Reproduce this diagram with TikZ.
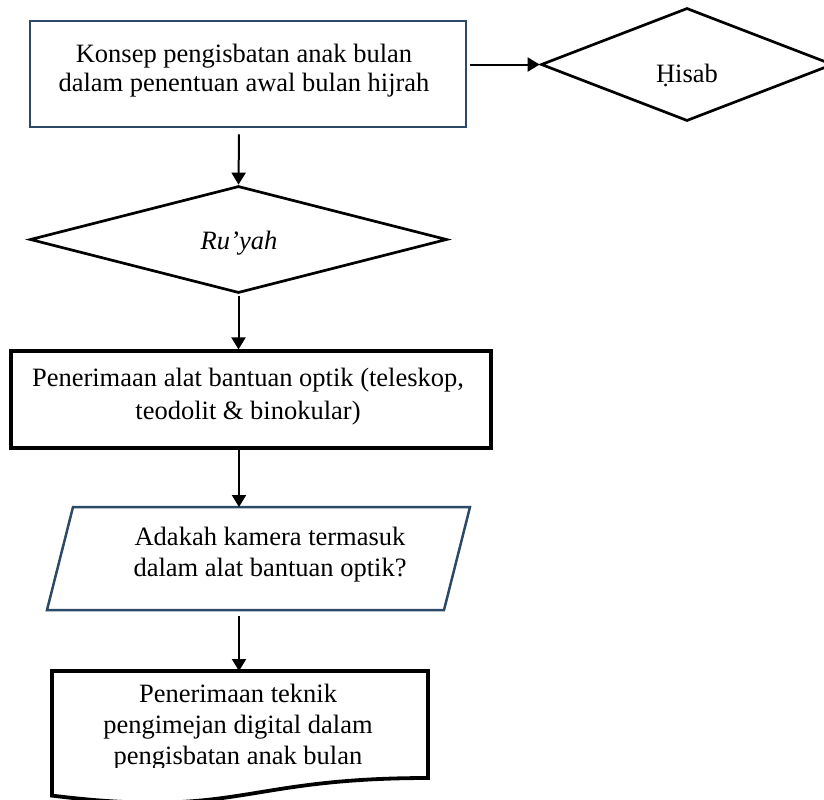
\documentclass[tikz,border=0pt]{standalone}
\usepackage{fontspec}
\setmainfont{Liberation Serif}
\usetikzlibrary{arrows.meta,shapes.geometric}
\definecolor{slateedge}{RGB}{44,74,104}
\begin{document}
\begin{tikzpicture}[x=0.5pt,y=-0.5pt,
  blueline/.style={draw=slateedge,line width=1.25pt},
  blackbox/.style={draw=black,line width=1.6pt},
  decision/.style={diamond,draw=black,line width=1.35pt,inner sep=0pt},
  txt/.style={align=center,inner sep=0pt},
  arr/.style={-{Triangle[length=6pt,width=7pt]},line width=1pt},
  hidden/.style={draw=none,inner sep=0pt,outer sep=0pt}]
\useasboundingbox (0,0) rectangle (824,799);
\coordinate (spine) at (239,0);

% shapes
\node[blueline,rectangle,minimum width=218pt,minimum height=53pt,inner sep=0pt] (konsep) at (248,74) {};
\node[decision,minimum width=146pt,minimum height=56.5pt] (hisab) at (687,64.5) {};
\node[decision,minimum width=208.5pt,minimum height=53.5pt] (ruyah) at (238.5,239.5) {};
\node[blackbox,rectangle,minimum width=240pt,minimum height=48.5pt,inner sep=0pt] (optik) at (251,399.5) {};

\draw[blueline] (73,507) -- (470,507) -- (444,610) -- (47,610) -- cycle;
\node[hidden,minimum width=211.5pt,minimum height=51.5pt] (kamera) at (258.5,558.5) {};

\draw[draw=black,line width=1.9pt,line join=miter] (52,671) -- (428,671) -- (428,778)
  .. controls (240,778) and (240,818.7) .. (52,795.6) -- cycle;
\node[hidden,minimum width=188pt,minimum height=53.5pt] (pengimejan) at (240,724.5) {};

% texts
\node[txt,font=\fontsize{13.25}{14.75}\selectfont] (konsepT) at (244,70.6)
  {Konsep pengisbatan anak bulan\\dalam penentuan awal bulan hijrah};
\node[txt,anchor=base,font=\fontsize{13.25}{15}\selectfont] (hisabT) at (687,82) {Ḥisab};
\node[txt,anchor=base,font=\fontsize{13.25}{15}\itshape] (ruyahT) at (239,249) {Ru’yah};
\node[txt,font=\fontsize{13.25}{16.5}\selectfont] (optikT) at (248,396.7)
  {Penerimaan alat bantuan optik (teleskop,\\teodolit \& binokular)};
\node[txt,font=\fontsize{13.25}{15.5}\selectfont] (kameraT) at (270,554.4)
  {Adakah kamera termasuk\\dalam alat bantuan optik?};
\begin{scope}
\clip (40,660) rectangle (440,767);
\node[txt,font=\fontsize{13.25}{15.5}\selectfont] (pengimejanT) at (238,726.9)
  {Penerimaan teknik\\pengimejan digital dalam\\pengisbatan anak bulan};
\end{scope}

% connectors
\draw[arr] ([xshift=1.5pt]konsep.east |- hisab.west) -- (hisab.west);
\draw[arr] ([yshift=-3pt]konsep.south -| spine) -- (ruyah.north);
\draw[arr] ([yshift=-1pt]ruyah.south) -- (ruyah.south |- optik.north);
\draw[arr] (optik.south -| spine) -- (kamera.north -| spine);
\draw[arr] ([yshift=-3pt]kamera.south -| spine) -- (pengimejan.north -| spine);
\end{tikzpicture}
\end{document}
